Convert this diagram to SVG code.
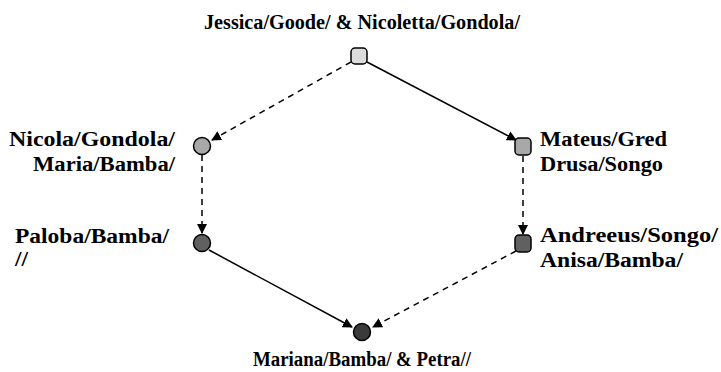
<svg xmlns="http://www.w3.org/2000/svg" width="721" height="372" viewBox="0 0 721 372">
<defs>
<marker id="ah" viewBox="0 0 10 10" refX="9" refY="5" markerWidth="10" markerHeight="10" markerUnits="userSpaceOnUse" orient="auto">
<path d="M0,0 L10,5 L0,10 z" fill="#000"/>
</marker>
<style>
.lbl{font-family:"Liberation Serif","Times New Roman",serif;font-weight:bold;font-size:20px;fill:#000}
.e{fill:none;stroke:#000;stroke-width:1.5}
.d{stroke-dasharray:6 5}
.n{stroke:#000;stroke-width:1.5}
.c1{fill:#dcdcdc}
.c2{fill:#a8a8a8}
.c3{fill:#606060}
.c4{fill:#3a3a3a}
</style>
</defs>
<rect width="721" height="372" fill="#fff"/>
<g id="connectors">
<line class="e d" x1="351" y1="62" x2="212" y2="140" marker-end="url(#ah)"/>
<line class="e" x1="367" y1="62" x2="516" y2="140" marker-end="url(#ah)"/>
<line class="e d" x1="202" y1="155" x2="202" y2="233" marker-end="url(#ah)"/>
<line class="e d" x1="523" y1="156" x2="523" y2="234" marker-end="url(#ah)"/>
<line class="e" x1="209" y1="250" x2="352" y2="327" marker-end="url(#ah)"/>
<line class="e d" x1="516" y1="251" x2="373" y2="327" marker-end="url(#ah)"/>
</g>
<g id="n-top">
<rect class="n c1" x="351" y="48" width="16" height="16" rx="4"/>
<text class="lbl" x="362" y="29" text-anchor="middle" textLength="316" lengthAdjust="spacingAndGlyphs">Jessica/Goode/ &amp; Nicoletta/Gondola/</text>
</g>
<g id="n-left">
<circle class="n c2" cx="202" cy="146" r="8.5"/>
<text class="lbl" x="175" y="146" text-anchor="end" textLength="166" lengthAdjust="spacingAndGlyphs">Nicola/Gondola/</text>
<text class="lbl" x="175" y="171" text-anchor="end" textLength="142" lengthAdjust="spacingAndGlyphs">Maria/Bamba/</text>
</g>
<g id="n-right">
<rect class="n c2" x="515" y="138" width="16" height="17" rx="4"/>
<text class="lbl" x="540" y="146" textLength="127" lengthAdjust="spacingAndGlyphs">Mateus/Gred</text>
<text class="lbl" x="540" y="171" textLength="123" lengthAdjust="spacingAndGlyphs">Drusa/Songo</text>
</g>
<g id="n-left-low">
<circle class="n c3" cx="202" cy="243" r="8.5"/>
<text class="lbl" x="15" y="243" textLength="154" lengthAdjust="spacingAndGlyphs">Paloba/Bamba/</text>
<text class="lbl" x="15" y="266" textLength="13" lengthAdjust="spacingAndGlyphs">//</text>
</g>
<g id="n-right-low">
<rect class="n c3" x="515" y="235" width="16" height="17" rx="4"/>
<text class="lbl" x="540" y="242" textLength="178" lengthAdjust="spacingAndGlyphs">Andreeus/Songo/</text>
<text class="lbl" x="540" y="267" textLength="143" lengthAdjust="spacingAndGlyphs">Anisa/Bamba/</text>
</g>
<g id="n-bottom">
<circle class="n c4" cx="362" cy="332" r="8.5"/>
<text class="lbl" x="362" y="366" text-anchor="middle" textLength="218" lengthAdjust="spacingAndGlyphs">Mariana/Bamba/ &amp; Petra//</text>
</g>
</svg>
